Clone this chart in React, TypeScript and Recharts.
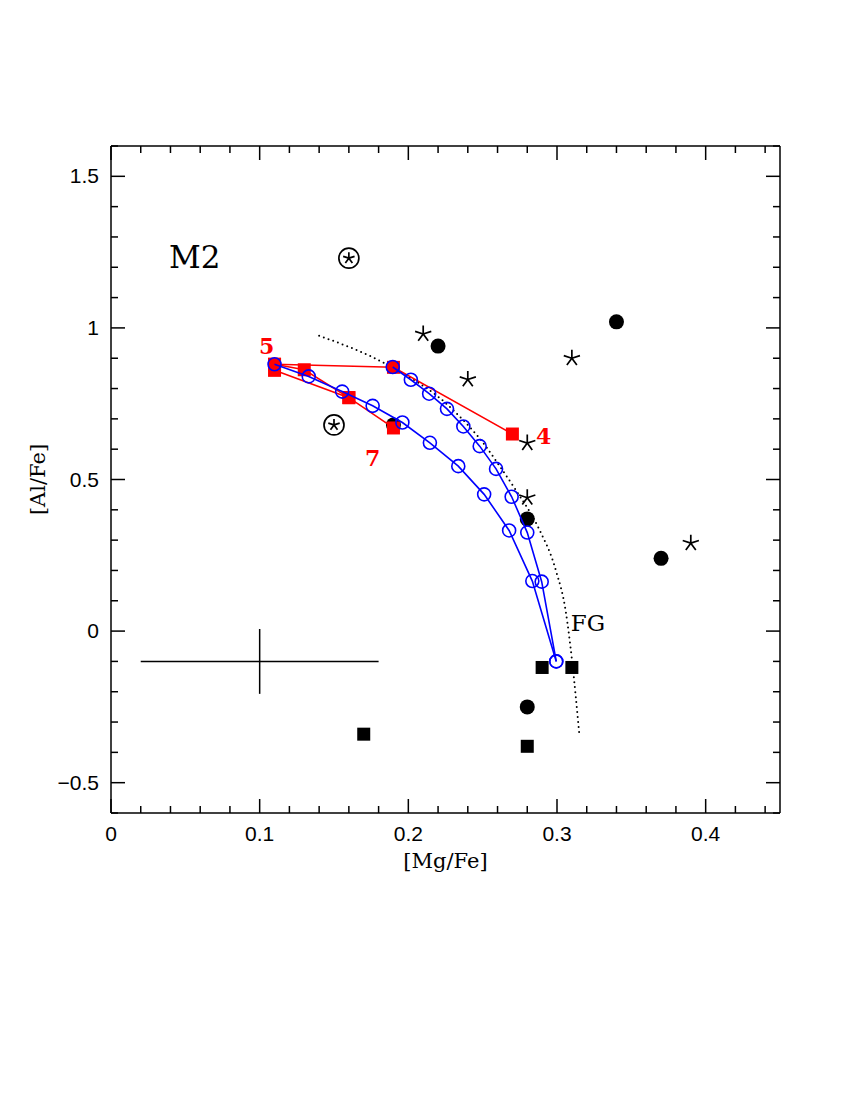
import React from 'react'
import { ComposedChart, Scatter, XAxis, YAxis, ErrorBar, Label } from 'recharts'

// plot box in page pixels (chart is pinned to the page origin)
const W = 850
const H = 1100
const PLOT_LEFT = 111
const PLOT_TOP = 146
const PLOT_RIGHT = 780
const PLOT_BOTTOM = 813

const xTicks = [0, 0.02, 0.04, 0.06, 0.08, 0.1, 0.12, 0.14, 0.16, 0.18, 0.2, 0.22, 0.24, 0.26, 0.28, 0.3, 0.32, 0.34, 0.36, 0.38, 0.4, 0.42, 0.44]
const xMajor = [0, 0.1, 0.2, 0.3, 0.4]
const yTicks = [-0.6, -0.5, -0.4, -0.3, -0.2, -0.1, 0, 0.1, 0.2, 0.3, 0.4, 0.5, 0.6, 0.7, 0.8, 0.9, 1, 1.1, 1.2, 1.3, 1.4, 1.5, 1.6]
const yMajor = [-0.5, 0, 0.5, 1, 1.5]
const yMajorLabels = ['\u22120.5', '0', '0.5', '1', '1.5']

// observed stars
const filledCircles = [
  { x: 0.22, y: 0.94 },
  { x: 0.34, y: 1.02 },
  { x: 0.28, y: 0.37 },
  { x: 0.37, y: 0.24 },
  { x: 0.28, y: -0.25 },
  { x: 0.19, y: 0.68 },
]
const asterisks = [
  { x: 0.21, y: 0.98 },
  { x: 0.24, y: 0.83 },
  { x: 0.31, y: 0.9 },
  { x: 0.28, y: 0.62 },
  { x: 0.28, y: 0.44 },
  { x: 0.39, y: 0.29 },
]
const circledAsterisks = [
  { x: 0.16, y: 1.23 },
  { x: 0.15, y: 0.68 },
]
const blackSquares = [
  { x: 0.17, y: -0.34 },
  { x: 0.29, y: -0.12 },
  { x: 0.31, y: -0.12 },
  { x: 0.28, y: -0.38 },
]

// AGB yields (red)
const redTrackA = [
  { x: 0.27, y: 0.65 },
  { x: 0.19, y: 0.87 },
  { x: 0.11, y: 0.88 },
]
const redTrackB = [
  { x: 0.11, y: 0.86 },
  { x: 0.16, y: 0.77 },
  { x: 0.19, y: 0.67 },
]
const redTrackC = [
  { x: 0.11, y: 0.88 },
  { x: 0.13, y: 0.862 },
  { x: 0.16, y: 0.77 },
]

// dilution curves (blue)
const blueCurveA = [
  { x: 0.11, y: 0.88 },
  { x: 0.133, y: 0.84 },
  { x: 0.1555, y: 0.79 },
  { x: 0.176, y: 0.743 },
  { x: 0.196, y: 0.688 },
  { x: 0.2145, y: 0.621 },
  { x: 0.2336, y: 0.544 },
  { x: 0.251, y: 0.451 },
  { x: 0.2678, y: 0.332 },
  { x: 0.2834, y: 0.165 },
  { x: 0.2995, y: -0.1 },
]
const blueCurveB = [
  { x: 0.1895, y: 0.871 },
  { x: 0.2017, y: 0.829 },
  { x: 0.214, y: 0.783 },
  { x: 0.226, y: 0.733 },
  { x: 0.237, y: 0.675 },
  { x: 0.248, y: 0.61 },
  { x: 0.259, y: 0.535 },
  { x: 0.2695, y: 0.443 },
  { x: 0.28, y: 0.325 },
  { x: 0.2897, y: 0.163 },
  { x: 0.2995, y: -0.1 },
]

// FG dotted curve
const fgCurve = [
  { x: 0.14, y: 0.974 },
  { x: 0.186, y: 0.878 },
  { x: 0.23, y: 0.73 },
  { x: 0.252, y: 0.61 },
  { x: 0.262, y: 0.54 },
  { x: 0.273, y: 0.46 },
  { x: 0.288, y: 0.336 },
  { x: 0.299, y: 0.204 },
  { x: 0.306, y: 0.061 },
  { x: 0.31, y: -0.092 },
  { x: 0.315, y: -0.34 },
]

const errorCross = [{ x: 0.1, y: -0.1, ex: 0.08, ey: 0.107 }]

const panelLabel = [{ x: 0.0564, y: 1.234, text: 'M2' }]
const fgLabel = [{ x: 0.3208, y: 0.026, text: 'FG' }]
const massLabels = [
  { x: 0.1047, y: 0.941, text: '5' },
  { x: 0.291, y: 0.645, text: '4' },
  { x: 0.176, y: 0.572, text: '7' },
]

const SERIF = 'DejaVu Serif'
const SANS = 'Liberation Sans'
const BLUE = '#0000ff'
const RED = '#ff0000'

const isIn = (v: number, list: number[]) => list.some((m) => Math.abs(m - v) < 1e-6)

const BottomTick = ({ x, payload }: any) => {
  const major = isIn(payload.value, xMajor)
  const len = major ? 14 : 7
  return (
    <g>
      <line x1={x} x2={x} y1={PLOT_BOTTOM} y2={PLOT_BOTTOM - len} stroke="#000" strokeWidth={1.5} />
      {major && (
        <text x={x} y={PLOT_BOTTOM + 28} textAnchor="middle" fontFamily={SANS} fontSize={21} fill="#000">
          {String(payload.value)}
        </text>
      )}
    </g>
  )
}

const TopTick = ({ x, payload }: any) => {
  const len = isIn(payload.value, xMajor) ? 14 : 7
  return <line x1={x} x2={x} y1={PLOT_TOP} y2={PLOT_TOP + len} stroke="#000" strokeWidth={1.5} />
}

const LeftTick = ({ y, payload }: any) => {
  const idx = yMajor.findIndex((m) => Math.abs(m - payload.value) < 1e-6)
  const len = idx >= 0 ? 14 : 7
  return (
    <g>
      <line x1={PLOT_LEFT} x2={PLOT_LEFT + len} y1={y} y2={y} stroke="#000" strokeWidth={1.5} />
      {idx >= 0 && (
        <text x={PLOT_LEFT - 12} y={y + 7} textAnchor="end" fontFamily={SANS} fontSize={21} fill="#000">
          {yMajorLabels[idx]}
        </text>
      )}
    </g>
  )
}

const RightTick = ({ y, payload }: any) => {
  const len = isIn(payload.value, yMajor) ? 14 : 7
  return <line x1={PLOT_RIGHT} x2={PLOT_RIGHT - len} y1={y} y2={y} stroke="#000" strokeWidth={1.5} />
}

const starPath = (cx: number, cy: number, r: number) => {
  let d = ''
  for (let i = 0; i < 5; i++) {
    const a = (-90 + i * 72) * (Math.PI / 180)
    d += `M${cx},${cy}L${cx + r * Math.cos(a)},${cy + r * Math.sin(a)}`
  }
  return d
}

const Nothing = () => <g />
const FilledCircle = ({ cx, cy }: any) => <circle cx={cx} cy={cy} r={7.5} fill="#000" />
const Asterisk = ({ cx, cy }: any) => <path d={starPath(cx, cy, 8.5)} stroke="#000" strokeWidth={1.7} fill="none" />
const CircledAsterisk = ({ cx, cy }: any) => (
  <g>
    <circle cx={cx} cy={cy} r={10} fill="none" stroke="#000" strokeWidth={1.7} />
    <path d={starPath(cx, cy, 6)} stroke="#000" strokeWidth={1.7} fill="none" />
  </g>
)
const BlackSquare = ({ cx, cy }: any) => <rect x={cx - 6.5} y={cy - 6.5} width={13} height={13} fill="#000" />
const RedSquare = ({ cx, cy }: any) => <rect x={cx - 6.5} y={cy - 6.5} width={13} height={13} fill={RED} />
const OpenCircle = ({ cx, cy }: any) => <circle cx={cx} cy={cy} r={6.5} fill="none" stroke={BLUE} strokeWidth={1.6} />

const textShape = (size: number, color: string, weight = 'normal') => ({ cx, cy, payload }: any) => (
  <text x={cx} y={cy} textAnchor="middle" dominantBaseline="central" fontFamily={SERIF} fontSize={size} fontWeight={weight} fill={color}>
    {payload.text}
  </text>
)

export default function App() {
  return (
    <div style={{ position: 'absolute', left: 0, top: 0, width: W, height: H, background: '#fff' }}>
      <ComposedChart
        width={W}
        height={H}
        margin={{ top: PLOT_TOP - 10, right: W - PLOT_RIGHT - 10, bottom: H - PLOT_BOTTOM - 40, left: PLOT_LEFT - 60 }}
      >
        <XAxis
          dataKey="x"
          type="number"
          domain={[0, 0.45]}
          ticks={xTicks}
          interval={0}
          height={40}
          allowDataOverflow
          axisLine={{ stroke: '#000', strokeWidth: 1.5 }}
          tickLine={false}
          tick={<BottomTick />}
        >
          <Label value="[Mg/Fe]" position="bottom" offset={0} style={{ fontFamily: SERIF, fontSize: 21, fill: '#000' }} />
        </XAxis>
        <XAxis
          xAxisId="top"
          orientation="top"
          dataKey="x"
          type="number"
          domain={[0, 0.45]}
          ticks={xTicks}
          interval={0}
          height={10}
          allowDataOverflow
          axisLine={{ stroke: '#000', strokeWidth: 1.5 }}
          tickLine={false}
          tick={<TopTick />}
        />
        <YAxis
          dataKey="y"
          type="number"
          domain={[-0.6, 1.6]}
          ticks={yTicks}
          interval={0}
          width={60}
          allowDataOverflow
          axisLine={{ stroke: '#000', strokeWidth: 1.5 }}
          tickLine={false}
          tick={<LeftTick />}
        >
          <Label
            content={({ viewBox }: any) => {
              const cy = viewBox.y + viewBox.height / 2
              return (
                <text x={38} y={cy} transform={`rotate(-90 38 ${cy})`} textAnchor="middle" dominantBaseline="central" fontFamily={SERIF} fontSize={21} fill="#000">
                  [Al/Fe]
                </text>
              )
            }}
          />
        </YAxis>
        <YAxis
          yAxisId="right"
          orientation="right"
          dataKey="y"
          type="number"
          domain={[-0.6, 1.6]}
          ticks={yTicks}
          interval={0}
          width={10}
          allowDataOverflow
          axisLine={{ stroke: '#000', strokeWidth: 1.5 }}
          tickLine={false}
          tick={<RightTick />}
        />

        <Scatter
          data={fgCurve}
          shape={<Nothing />}
          line={{ stroke: '#000', strokeWidth: 2, strokeDasharray: '0 5', strokeLinecap: 'round' }}
          lineJointType="monotoneX"
          isAnimationActive={false}
        />
        <Scatter data={errorCross} shape={<Nothing />} isAnimationActive={false}>
          <ErrorBar dataKey="ex" direction="x" width={0} stroke="#000" strokeWidth={1.5} isAnimationActive={false} />
          <ErrorBar dataKey="ey" direction="y" width={0} stroke="#000" strokeWidth={1.5} isAnimationActive={false} />
        </Scatter>

        <Scatter data={filledCircles} shape={<FilledCircle />} isAnimationActive={false} />
        <Scatter data={asterisks} shape={<Asterisk />} isAnimationActive={false} />
        <Scatter data={circledAsterisks} shape={<CircledAsterisk />} isAnimationActive={false} />
        <Scatter data={blackSquares} shape={<BlackSquare />} isAnimationActive={false} />

        <Scatter data={redTrackC} shape={<RedSquare />} line={{ stroke: RED, strokeWidth: 1.6 }} isAnimationActive={false} />
        <Scatter data={redTrackB} shape={<RedSquare />} line={{ stroke: RED, strokeWidth: 1.6 }} isAnimationActive={false} />
        <Scatter data={redTrackA} shape={<RedSquare />} line={{ stroke: RED, strokeWidth: 1.6 }} isAnimationActive={false} />

        <Scatter data={blueCurveA} shape={<OpenCircle />} line={{ stroke: BLUE, strokeWidth: 1.6 }} isAnimationActive={false} />
        <Scatter data={blueCurveB} shape={<OpenCircle />} line={{ stroke: BLUE, strokeWidth: 1.6 }} isAnimationActive={false} />

        <Scatter data={panelLabel} shape={textShape(31, '#000')} isAnimationActive={false} />
        <Scatter data={fgLabel} shape={textShape(23, '#000')} isAnimationActive={false} />
        <Scatter data={massLabels} shape={textShape(22, RED, 'bold')} isAnimationActive={false} />
      </ComposedChart>
    </div>
  )
}
